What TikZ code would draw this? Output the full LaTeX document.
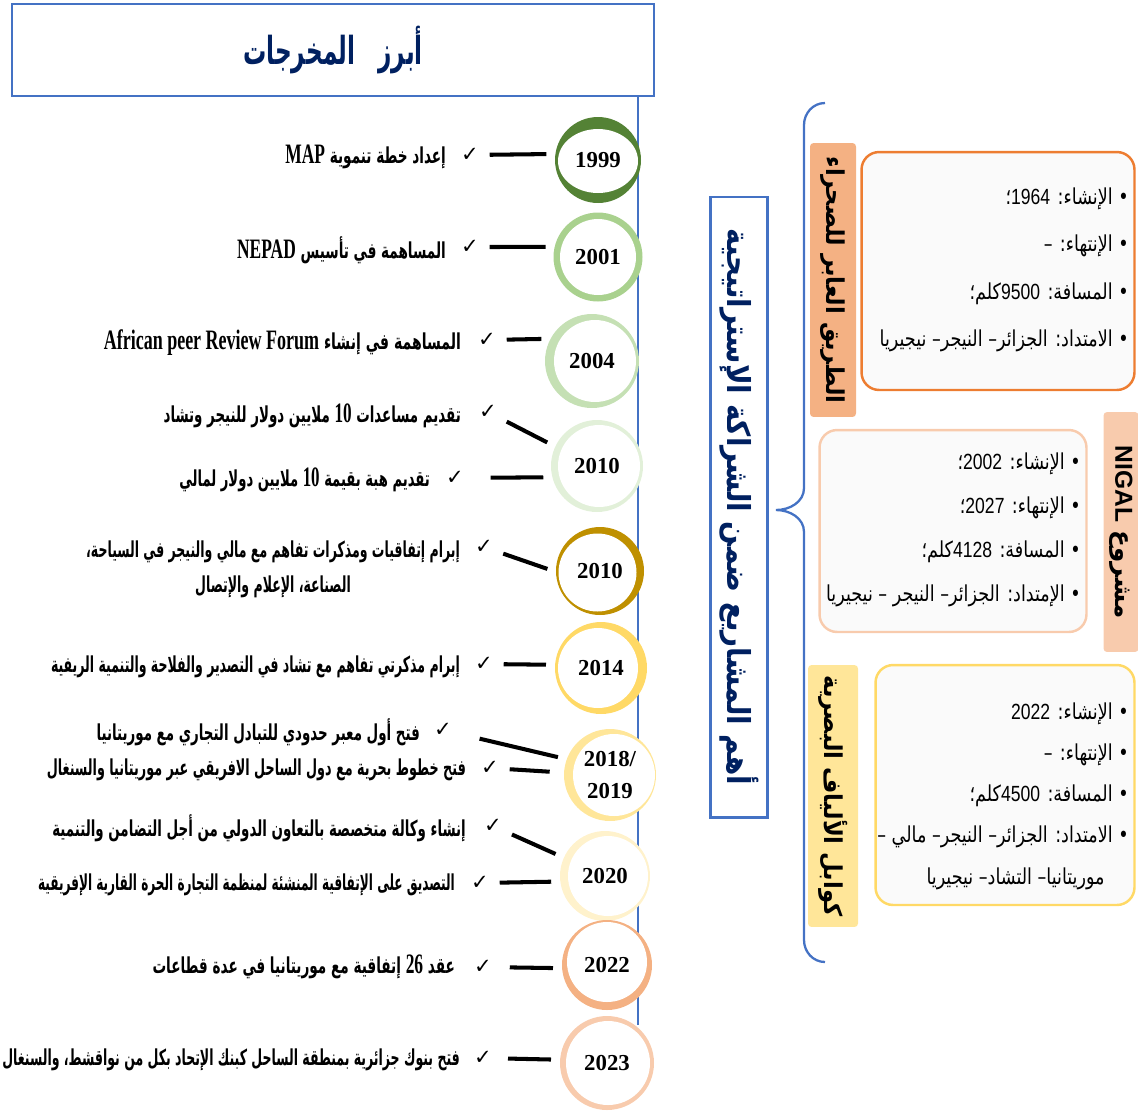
\documentclass[tikz,border=0pt]{standalone}
\usepackage{fontspec}
\usepackage{graphicx}
\usepackage{tikz}
\usetikzlibrary{calc}
\TeXXeTstate=1
\newfontfamily\arabicfont[Script=Arabic]{DejaVu Sans}
\newfontfamily\latinserif{Liberation Serif}
\newfontfamily\latinsans{Liberation Sans}
\newfontfamily\symfont{DejaVu Sans}
\newcommand{\rtl}[2][1]{\scalebox{#1}[1]{\beginR #2\endR}}
\newcommand{\lat}[1]{\beginL{\latinserif\bfseries\fontsize{16}{18}\selectfont #1}\endL}
\newcommand{\latnum}[1]{\beginL{\latinsans #1}\endL}

\definecolor{frameblue}{HTML}{4472C4}
\definecolor{navy}{HTML}{002060}
\definecolor{green1}{HTML}{548235}
\definecolor{green2}{HTML}{A9D18E}
\definecolor{green3}{HTML}{C5E0B4}
\definecolor{green4}{HTML}{E2F0D9}
\definecolor{gold1}{HTML}{BF9000}
\definecolor{gold2}{HTML}{FFD966}
\definecolor{gold3}{HTML}{FFE699}
\definecolor{gold4}{HTML}{FFF2CC}
\definecolor{orange1}{HTML}{ED7D31}
\definecolor{orange2}{HTML}{F4B183}
\definecolor{peach}{HTML}{F8CBAD}

\tikzset{
    year/.style n args={6}{circle, minimum size=#2, fill=#1, inner sep=0pt,
        align=center, font=\latinserif\bfseries\fontsize{13}{18}\selectfont,
        path picture={\fill[white] ($(path picture bounding box.center)+(#3,#4)$)
            ellipse (#5 and #6);}}
}
\tikzset{
    evt/.style={anchor=east, inner sep=1pt,
        font=\arabicfont\bfseries\fontsize{12.5}{20}\selectfont},
    chk/.style={inner sep=1pt, font=\symfont\fontsize{12}{14}\selectfont},
    conn/.style={line width=2.3pt, shorten <=5pt, shorten >=5pt}
}
\tikzset{
    lab/.style={rotate=-90, rounded corners=2pt, inner sep=1pt,
        font=\arabicfont\bfseries\fontsize{14}{16}\selectfont},
    infobox/.style={rounded corners=10pt, line width=1.4pt, fill=white!98!black},
    items/.style={anchor=east, align=right, inner sep=0pt, font=\arabicfont\fontsize{12.5}{27}\selectfont}
}

\begin{document}
\begin{tikzpicture}[x=0.02cm, y=-0.02cm]
	\useasboundingbox (0,0) rectangle (1138,1113);

	\node (title) [draw=frameblue, line width=1.5pt, minimum width=12.84cm, minimum height=1.84cm,
		text=navy, font=\arabicfont\bfseries\fontsize{22}{24}\selectfont] at (333,50)
		{\rtl[0.6]{أبرز\quad المخرجات}};

	\draw [frameblue, line width=1pt] (638,97) -- (638,1025);

	\node (y1) [year={green1}{1.72cm}{0cm}{-0.02cm}{0.80cm}{0.64cm}] at (598,160) {1999};
	\node (y2) [year={green2}{1.78cm}{0cm}{0cm}{0.76cm}{0.76cm}] at (598,257) {2001};
	\node (y3) [year={green3}{1.88cm}{0.06cm}{0cm}{0.82cm}{0.82cm}] at (592,361) {2004};
	\node (y4) [year={green4}{1.84cm}{0.04cm}{0cm}{0.82cm}{0.82cm}] at (597,466) {2010};
	\node (y5) [year={gold1}{1.76cm}{-0.05cm}{-0.03cm}{0.78cm}{0.78cm}] at (600,571) {2010};
	\node (y6) [year={gold2}{1.84cm}{-0.06cm}{0cm}{0.80cm}{0.80cm}] at (601,668) {2014};
	\node (y7) [year={gold3}{1.84cm}{0.08cm}{0cm}{0.82cm}{0.82cm}] at (610,775) {2018/\\2019};
	\node (y8) [year={gold4}{1.80cm}{0.06cm}{0cm}{0.80cm}{0.80cm}] at (605,876) {2020};
	\node (y9) [year={orange2}{1.80cm}{0cm}{0.06cm}{0.80cm}{0.80cm}] at (607,965) {2022};
	\node (y10) [year={peach}{1.88cm}{0.02cm}{0cm}{0.84cm}{0.84cm}] at (607,1063) {2023};

	\node (k1) [chk] at (470,155) {✓};
	\node (k2) [chk] at (470,247) {✓};
	\node (k3) [chk] at (487,340) {✓};
	\node (k4) [chk] at (488,412) {✓};
	\node (k5) [chk] at (455,478) {✓};
	\node (k6) [chk] at (484,547) {✓};
	\node (k7) [chk] at (484,664) {✓};
	\node (k8) [chk] at (443,730) {✓};
	\node (k9) [chk] at (490,768) {✓};
	\node (k10) [chk] at (493,826) {✓};
	\node (k11) [chk] at (480,883) {✓};
	\node (k12) [chk] at (483,967) {✓};
	\node (k13) [chk] at (483,1058) {✓};

	\node (t1) [evt] at (448,157) {\rtl[0.62]{إعداد خطة تنموية \lat{MAP}}};
	\node (t2) [evt] at (448,250) {\rtl[0.62]{المساهمة في تأسيس \lat{NEPAD}}};
	\node (t3) [evt] at (463,343) {\rtl[0.64]{المساهمة في إنشاء \lat{African peer Review Forum}}};
	\node (t4) [evt] at (463,416) {\rtl[0.61]{تقديم مساعدات \lat{10} ملايين دولار  للنيجر وتشاد}};
	\node (t5) [evt] at (432,480) {\rtl[0.6]{تقديم هبة بقيمة \lat{10} ملايين دولار لمالي}};
	\node (t6) [evt, align=center] at (462,569)
		{\rtl[0.57]{إبرام إتفاقيات ومذكرات تفاهم مع مالي والنيجر في السياحة،}\\
		\rtl[0.57]{الصناعة، الإعلام والإتصال}};
	\node (t7) [evt] at (462,667) {\rtl[0.57]{إبرام مذكرتي تفاهم مع تشاد في التصدير والفلاحة والتنمية الريفية}};
	\node (t8) [evt] at (422,732) {\rtl[0.61]{فتح أول معبر حدودي للتبادل التجاري مع موريتانيا}};
	\node (t9) [evt] at (468,770) {\rtl[0.58]{فتح خطوط بحرية مع دول الساحل الافريقي عبر موريتانيا والسنغال}};
	\node (t10) [evt] at (468,828) {\rtl[0.61]{إنشاء وكالة متخصصة بالتعاون الدولي من أجل التضامن والتنمية}};
	\node (t11) [evt] at (457,885) {\rtl[0.55]{التصديق على الإتفاقية المنشئة لمنظمة التجارة الحرة القارية الإفريقية}};
	\node (t12) [evt] at (457,967) {\rtl[0.62]{عقد \lat{26} إتفاقية مع موريتانيا في عدة قطاعات}};
	\node (t13) [evt] at (462,1060) {\rtl[0.57]{فتح بنوك جزائرية بمنطقة الساحل كبنك الإتحاد بكل من نواقشط، والسنغال}};

	\draw [conn] (k1) -- (y1.172);
	\draw [conn] (k2) -- (y2.167);
	\draw [conn] (k3) -- (y3.152);
	\draw [conn] (k4) -- (y4.155);
	\draw [conn, shorten <=14pt] (k5) -- (y4.194);
	\draw [conn] (k6) -- (y5.181);
	\draw [conn] (k7) -- (y6.176);
	\draw [conn, shorten <=15pt] (k8) -- (y7.160);
	\draw [conn, shorten >=8pt] (k9) -- (y7.177);
	\draw [conn] (k10) -- (y8.156);
	\draw [conn] (k11) -- (y8.187);
	\draw [conn, shorten <=9pt] (k12) -- (y9.184);
	\draw [conn, shorten <=8pt] (k13) -- (y10.176);

	% projects
	\node (core) [rotate=-90, draw=frameblue, line width=1.2pt, minimum width=12.42cm, minimum height=1.14cm,
		text=navy, font=\arabicfont\bfseries\fontsize{18}{20}\selectfont] at (739,507)
		{\rtl[0.88]{أهم المشاريع ضمن الشراكة الإستراتيجية}};
	\draw [frameblue, line width=1.3pt] (825,103) to[out=180,in=90] (804,125) -- (804,488)
		to[out=-90,in=0] (776,510) to[out=0,in=90] (804,532) -- (804,940) to[out=-90,in=180] (825,962);

	\node (lab1) [lab, fill=orange2, minimum width=5.48cm, minimum height=0.92cm] at (833,280)
		{\rtl[0.92]{الطريق العابر للصحراء}};
	\node (lab2) [lab, fill=peach, minimum width=4.8cm, minimum height=0.7cm] at (1121,532)
		{\rtl{مشروع \beginL{\latinsans\bfseries NIGAL}\endL}};
	\node (lab3) [lab, fill=gold3, minimum width=5.24cm, minimum height=1.0cm] at (833,796)
		{\rtl[0.92]{كوابل الألياف البصرية}};

	\node (box1) [infobox, draw=orange1, minimum width=5.46cm, minimum height=4.76cm] at (998,271) {};
	\node (box2) [infobox, draw=peach, minimum width=5.34cm, minimum height=4.04cm] at (953,531) {};
	\node (box3) [infobox, draw=gold2, minimum width=5.18cm, minimum height=4.8cm] at (1005,785) {};

	\node (it1) [items] at (1129,270)
		{\rtl[0.8]{• الإنشاء: \latnum{1964}؛}\\
		\rtl[0.8]{• الإنتهاء: –}\\
		\rtl[0.8]{• المسافة: \latnum{9500}كلم؛}\\
		\rtl[0.8]{• الامتداد: الجزائر– النيجر– نيجيريا}};
	\node (it2) [items, font=\arabicfont\fontsize{12.5}{25}\selectfont] at (1081,530)
		{\rtl[0.8]{• الإنشاء: \latnum{2002}؛}\\
		\rtl[0.8]{• الإنتهاء: \latnum{2027}؛}\\
		\rtl[0.8]{• المسافة: \latnum{4128}كلم؛}\\
		\rtl[0.8]{• الإمتداد: الجزائر– النيجر – نيجيريا}};
	\node (it3) [items, font=\arabicfont\fontsize{12.5}{23.5}\selectfont] at (1129,796)
		{\rtl[0.8]{• الإنشاء: \latnum{2022}}\\
		\rtl[0.8]{• الإنتهاء: –}\\
		\rtl[0.8]{• المسافة: \latnum{4500}كلم؛}\\
		\rtl[0.8]{• الامتداد: الجزائر– النيجر– مالي –}\\
		\rtl[0.8]{موريتانيا– التشاد– نيجيريا}\hspace*{1.1em}};
\end{tikzpicture}
\end{document}
